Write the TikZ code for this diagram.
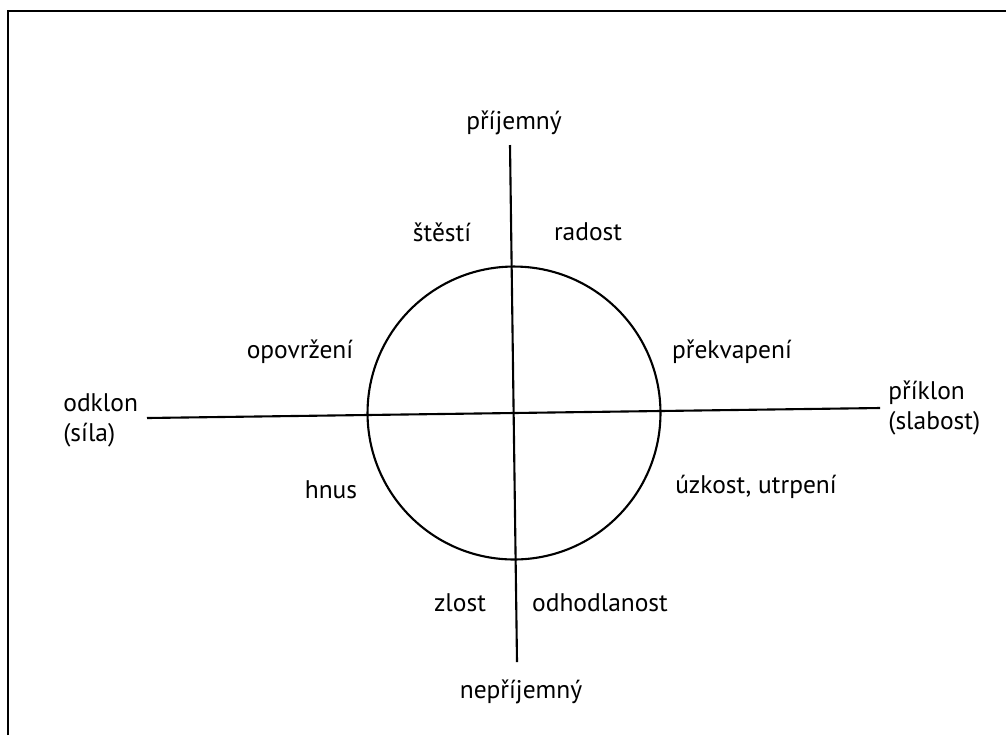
\documentclass[tikz,border=0pt]{standalone}
\usepackage{fontspec}
\setmainfont{PT Sans}
\begin{document}
\begin{tikzpicture}[x=0.02cm,y=-0.02cm]
\tikzset{
  wordnode/.style={inner sep=0pt,font=\fontsize{14.5}{17}\selectfont},
  axisline/.style={line width=1.2pt},
  frameline/.style={line width=1.6pt}
}
\useasboundingbox (0,0) rectangle (1006,735);
\coordinate (fr_bl) at (8,735);
\coordinate (fr_tl) at (8,11);
\coordinate (fr_tr) at (1006,11);
\draw[frameline] (fr_bl) -- (fr_tl) -- (fr_tr);
\coordinate (ax_t) at (510,145);
\coordinate (ax_b) at (517,662);
\coordinate (ax_l) at (147,418);
\coordinate (ax_r) at (880,408);
\node[circle,draw,line width=1.2pt,minimum size=5.86cm,inner sep=0pt] (wheel) at (514,413) {};
\draw[axisline] (ax_t) -- (ax_b);
\draw[axisline] (ax_l) -- (ax_r);
\node[wordnode] (w_top) at (514,123) {příjemný};
\node[wordnode] (w_bot) at (521,692) {nepříjemný};
\node[wordnode,anchor=west,align=left] (w_left) at (63,420) {odklon\\(síla)};
\node[wordnode,anchor=west,align=left] (w_right) at (888,408) {příklon\\(slabost)};
\node[wordnode] (w_stesti) at (442,232) {štěstí};
\node[wordnode] (w_radost) at (588,232) {radost};
\node[wordnode] (w_opovr) at (300,352) {opovržení};
\node[wordnode] (w_prekv) at (732,352) {překvapení};
\node[wordnode] (w_hnus) at (331,490) {hnus};
\node[wordnode] (w_uzkost) at (756,487) {úzkost, utrpení};
\node[wordnode] (w_zlost) at (460,603) {zlost};
\node[wordnode] (w_odhodl) at (600,603) {odhodlanost};
\end{tikzpicture}
\end{document}
